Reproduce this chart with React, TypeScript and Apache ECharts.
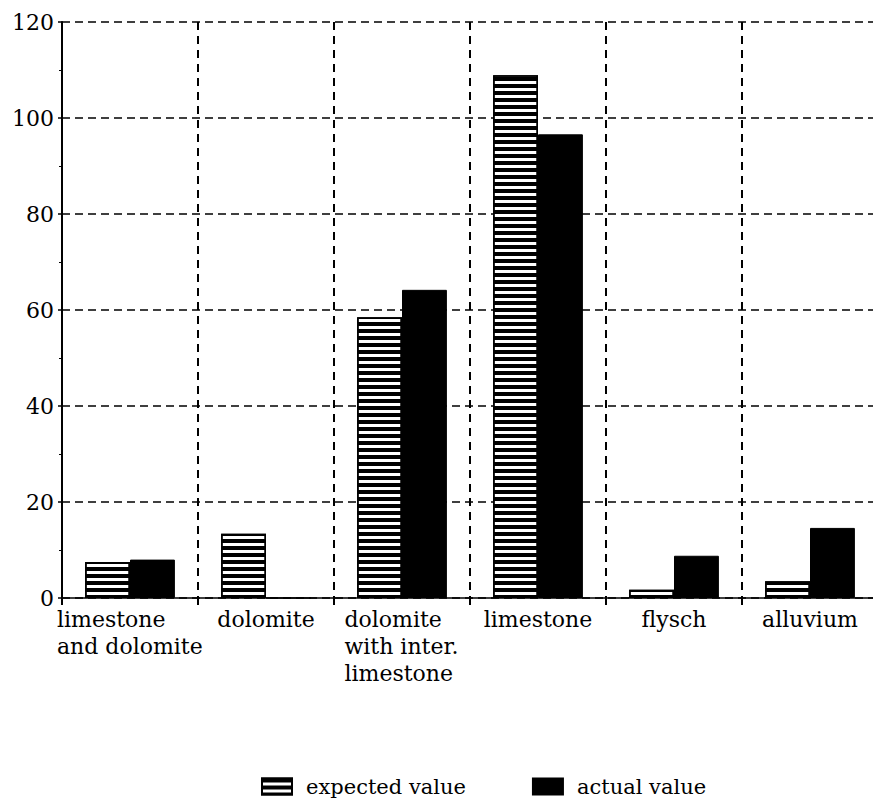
import React, { useEffect, useRef } from "react";
import * as echarts from "echarts";

const categories = [
  "limestone\nand dolomite",
  "dolomite",
  "dolomite\nwith inter.\nlimestone",
  "limestone",
  "flysch",
  "alluvium",
];
const expectedValues = [7.5, 13.4, 58.5, 108.9, 1.7, 3.5];
const actualValues = [8.0, 0, 64.2, 96.6, 8.8, 14.6];
const seriesNames = ["expected value", "actual value"];
const yMin = 0;
const yMax = 120;
const yInterval = 20;

const FONT = '"DejaVu Serif", "Liberation Serif", serif';
const LABEL_SIZE = 22;

export default function App() {
  const ref = useRef<HTMLDivElement>(null);

  useEffect(() => {
    if (!ref.current) return;
    const chart = echarts.init(ref.current, undefined, { renderer: "svg" });

    const canvas = document.createElement("canvas");
    const ctx = canvas.getContext("2d");
    const measure = (s: string) => {
      if (!ctx) return s.length * LABEL_SIZE * 0.6;
      ctx.font = `${LABEL_SIZE}px "DejaVu Serif"`;
      return ctx.measureText(s).width;
    };

    const rich: Record<string, any> = {};
    const styleOf: Record<string, string> = {};
    categories.forEach((c, i) => {
      const lines = c.split("\n");
      if (lines.length > 1) {
        const w = Math.ceil(Math.max(...lines.map(measure)));
        const key = "w" + i;
        rich[key] = {
          width: w,
          align: "left",
          fontFamily: FONT,
          fontSize: LABEL_SIZE,
          lineHeight: 27,
          color: "#000",
        };
        styleOf[c] = key;
      }
    });

    const dashGrid = { color: "#000", width: 1.6, type: [8, 5] as number[] };

    chart.setOption({
      animation: false,
      backgroundColor: "#fff",
      grid: { left: 62, right: 0, top: 22, bottom: 207, containLabel: false },
      legend: {
        left: 256,
        top: 771,
        icon: "rect",
        itemWidth: 30,
        itemHeight: 16,
        itemGap: 66,
        selectedMode: false,
        textStyle: {
          fontFamily: FONT,
          fontSize: 21,
          color: "#000",
          padding: [0, 0, 0, 9],
        },
        data: seriesNames,
      },
      xAxis: {
        type: "category",
        data: categories,
        boundaryGap: true,
        axisLine: { show: true, lineStyle: { color: "#000", width: 1.6 } },
        axisTick: {
          show: true,
          length: 7,
          interval: 0,
          lineStyle: { color: "#000", width: 2 },
        },
        splitLine: {
          show: true,
          interval: 0,
          lineStyle: { color: "#000", width: 2, type: [8, 6] },
        },
        axisLabel: {
          interval: 0,
          margin: 8,
          fontFamily: FONT,
          fontSize: LABEL_SIZE,
          lineHeight: 27,
          color: "#000",
          formatter: (v: string) => {
            const key = styleOf[v];
            if (!key) return v;
            return v
              .split("\n")
              .map((l) => `{${key}|${l}}`)
              .join("\n");
          },
          rich,
        },
      },
      yAxis: {
        type: "value",
        min: yMin,
        max: yMax,
        interval: yInterval,
        axisLine: { show: true, lineStyle: { color: "#000", width: 2 } },
        axisTick: { show: true, length: 4, lineStyle: { color: "#000", width: 1.5 } },
        minorTick: { show: true, splitNumber: 2, length: 3, lineStyle: { color: "#000", width: 1 } },
        splitLine: { show: true, lineStyle: dashGrid },
        axisLabel: {
          margin: 8,
          fontFamily: FONT,
          fontSize: LABEL_SIZE,
          color: "#000",
        },
      },
      series: [
        {
          name: seriesNames[0],
          type: "bar",
          data: expectedValues,
          barGap: "0%",
          barCategoryGap: "34%",
          itemStyle: {
            color: "#fff",
            borderColor: "#000",
            borderWidth: 1.5,
            decal: {
              symbol: "rect",
              symbolSize: 1,
              dashArrayX: [1, 0],
              dashArrayY: [4, 3],
              rotation: 0,
              color: "#000",
            },
          },
        },
        {
          name: seriesNames[1],
          type: "bar",
          data: actualValues,
          barGap: "0%",
          barCategoryGap: "34%",
          itemStyle: { color: "#000", borderColor: "#000", borderWidth: 1 },
        },
      ],
    });

    return () => chart.dispose();
  }, []);

  return (
    <div
      ref={ref}
      style={{ position: "fixed", left: 0, top: 0, width: 878, height: 805, background: "#fff" }}
    />
  );
}
